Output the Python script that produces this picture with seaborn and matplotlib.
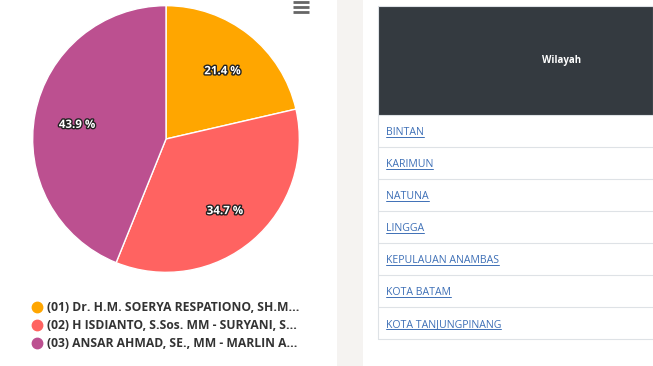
import matplotlib
matplotlib.use("Agg")
import matplotlib.pyplot as plt
import matplotlib.patheffects as pe
from matplotlib.lines import Line2D
from matplotlib.patches import Rectangle
import seaborn as sns

# data
candidates = [
    "(01) Dr. H.M. SOERYA RESPATIONO, SH.M...",
    "(02) H ISDIANTO, S.Sos. MM - SURYANI, S...",
    "(03) ANSAR AHMAD, SE., MM - MARLIN A...",
]
shares = [21.4, 34.7, 43.9]
colors = ["#ffa600", "#ff6361", "#bc5090"]
regions = ["BINTAN", "KARIMUN", "NATUNA", "LINGGA", "KEPULAUAN ANAMBAS",
           "KOTA BATAM", "KOTA TANJUNGPINANG"]
header = "Wilayah"

sns.set_theme(style="white")
plt.rcParams["font.family"] = ["Open Sans", "DejaVu Sans"]

W, H = 653, 366
fig = plt.figure(figsize=(W / 100, H / 100), dpi=100)
fig.patch.set_facecolor("white")

# background layer in pixel units
bg = fig.add_axes([0, 0, 1, 1])
bg.set_xlim(0, W)
bg.set_ylim(H, 0)
bg.axis("off")

# separator strip between the panels
bg.add_patch(Rectangle((337, 0), 26, H, color="#f5f3f1", lw=0))

# hamburger menu icon
for y in (1.5, 6.5, 11.5):
    bg.plot([293, 309], [y, y], color="#666666", lw=2, solid_capstyle="butt")

# pie
ax = fig.add_axes([32 / W, (H - 273) / H, 268 / W, 268 / H])
wedges, _, autotexts = ax.pie(
    shares, colors=colors, startangle=90, counterclock=False,
    autopct=lambda p: f"{p:.1f} %", pctdistance=0.68, radius=1,
    wedgeprops=dict(edgecolor="white", linewidth=1),
)
for t in autotexts:
    t.set_color("white")
    t.set_fontsize(8.3)
    t.set_fontweight("bold")
    t.set_path_effects([pe.withStroke(linewidth=2, foreground="#222222")])
    x, y = t.get_position()
    t.set_position((x, y - 0.02))
ax.set_xlim(-1.005, 1.005)
ax.set_ylim(-1.005, 1.005)
ax.set_aspect("equal")

# legend
handles = [Line2D([], [], marker="o", ls="", markersize=7.5, color=c) for c in colors]
leg = fig.legend(handles, candidates, loc="upper left",
                 bbox_to_anchor=(31 / W, 1 - 301 / H), frameon=False,
                 handletextpad=0.35, labelspacing=0.42, handlelength=1.0,
                 borderpad=0, borderaxespad=0,
                 prop=dict(family=["Open Sans", "DejaVu Sans"], weight="bold", size=8.7))
for t in leg.get_texts():
    t.set_color("#333333")

# table
left, right = 378, W
head_top, head_bot = 6, 115
row_h = 32
bg.add_patch(Rectangle((left, head_top), right - left, head_bot - head_top,
                       facecolor="#343a40", edgecolor="#dee2e6", lw=0.8))
bg.text(562, (head_top + head_bot) / 2, header, color="white", fontsize=7,
        fontweight="bold", ha="center", va="center")

link_texts = []
for i, name in enumerate(regions):
    y0 = head_bot + i * row_h
    bg.plot([left, right], [y0 + row_h, y0 + row_h], color="#dee2e6", lw=0.8)
    t = bg.text(386, y0 + row_h / 2 + 1.5, name, color="#3d6fb6", fontsize=7.6,
                ha="left", va="center")
    link_texts.append(t)
bg.plot([left, left], [head_bot, head_bot + len(regions) * row_h],
        color="#dee2e6", lw=0.8)

# underline links
fig.canvas.draw()
r = fig.canvas.get_renderer()
inv = bg.transData.inverted()
for t in link_texts:
    bb = t.get_window_extent(r)
    (x0, y0), (x1, y1) = inv.transform([[bb.x0, bb.y0], [bb.x1, bb.y1]])
    bg.plot([x0, x1], [y0 - 1.0, y0 - 1.0], color="#3d6fb6", lw=0.7)

fig.savefig("out.png", dpi=100)
